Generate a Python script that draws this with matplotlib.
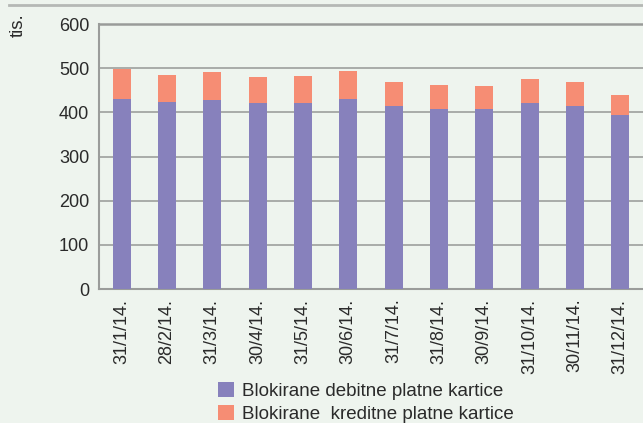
import matplotlib
matplotlib.use("Agg")
import matplotlib.pyplot as plt
from matplotlib.lines import Line2D
import numpy as np

categories = ["31/1/14.", "28/2/14.", "31/3/14.", "30/4/14.", "31/5/14.", "30/6/14.",
              "31/7/14.", "31/8/14.", "30/9/14.", "31/10/14.", "30/11/14.", "31/12/14."]
debitne = [430, 423, 429, 420, 421, 430, 414, 408, 407, 420, 414, 394]
kreditne = [67, 61, 62, 60, 61, 64, 55, 55, 52, 55, 54, 45]
yticks = [0, 100, 200, 300, 400, 500, 600]
labels = ["Blokirane debitne platne kartice", "Blokirane  kreditne platne kartice"]

plt.rcParams['font.family'] = ['Liberation Sans', 'DejaVu Sans']

bg = "#EEF4EE"
c_deb = "#8781BC"
c_kre = "#F68D74"
txt = "#2A2A2A"

fig = plt.figure(figsize=(6.43, 4.23), dpi=100, facecolor=bg)
ax = fig.add_axes([99/643, (423-289)/423, 1 - 99/643, (289-24)/423])
ax.set_facecolor(bg)

x = np.arange(len(categories))
ax.bar(x, debitne, width=0.4, color=c_deb, label=labels[0], zorder=3)
ax.bar(x, kreditne, width=0.4, bottom=debitne, color=c_kre, label=labels[1], zorder=3)

ax.set_xlim(-0.5, len(categories) - 0.5)
ax.set_ylim(0, 600)
ax.set_yticks(yticks)
ax.set_yticklabels([str(v) for v in yticks], fontsize=13, color=txt)
ax.set_xticks(x)
ax.set_xticklabels(categories, rotation=90, fontsize=13, color=txt)
ax.tick_params(axis='both', length=0)
ax.tick_params(axis='y', pad=7)
ax.tick_params(axis='x', pad=7)

ax.yaxis.grid(True, color="#A3A6A3", linewidth=1.3, zorder=0)
ax.set_axisbelow(True)
for s in ["top", "right"]:
    ax.spines[s].set_visible(False)
ax.spines["left"].set_color("#9A9C9A")
ax.spines["left"].set_linewidth(1.5)
ax.spines["bottom"].set_color("#9A9C9A")
ax.spines["bottom"].set_linewidth(1.5)
ax.axhline(600, color="#999B99", linewidth=1.8, zorder=1, clip_on=False)

fig.add_artist(Line2D([9/643, 1.0], [1 - 5/423, 1 - 5/423], color="#B5B8B5",
                      linewidth=2, transform=fig.transFigure))

fig.text(18/643, 1 - 25/423, "tis.", rotation=90, fontsize=13.5, color=txt,
         ha="center", va="center")

leg = fig.legend(loc="upper left", bbox_to_anchor=(218/643, 1 - 382/423), frameon=False,
                 fontsize=13.5, handlelength=0.85, handleheight=0.85, handletextpad=0.43,
                 labelspacing=0.27, borderpad=0, borderaxespad=0)
for t in leg.get_texts():
    t.set_color(txt)

fig.savefig("out.png", dpi=100, facecolor=bg)
